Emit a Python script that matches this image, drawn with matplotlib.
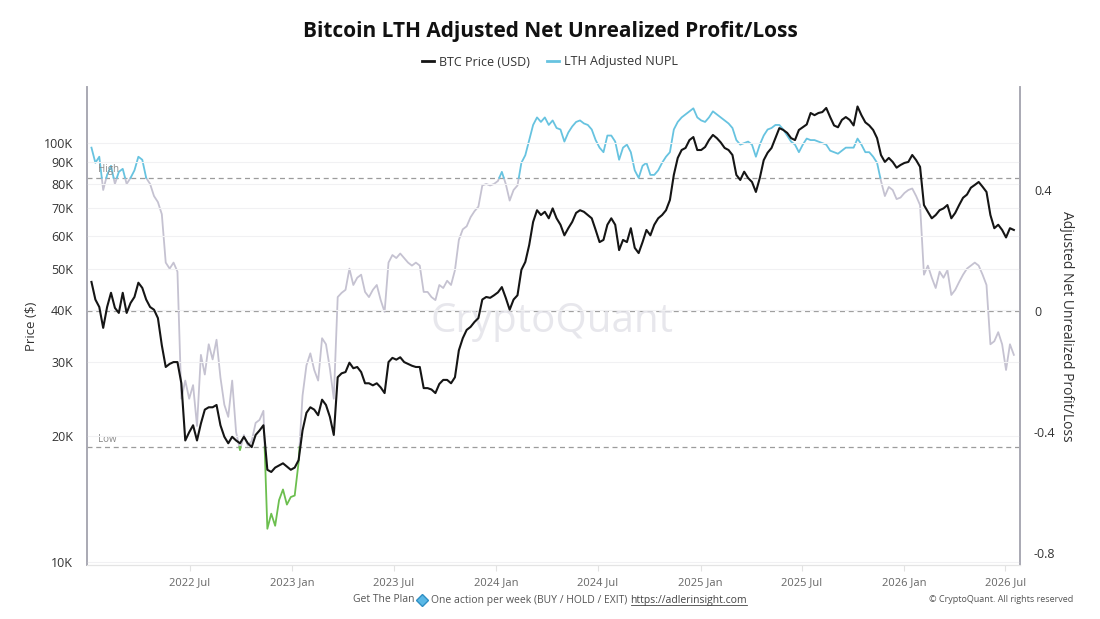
import numpy as np
import pandas as pd
import matplotlib
matplotlib.use('Agg')
import matplotlib.pyplot as plt
import matplotlib.dates as mdates
from matplotlib.ticker import FixedLocator, NullLocator, NullFormatter
from matplotlib.lines import Line2D

plt.rcParams['font.family'] = ['Open Sans', 'DejaVu Sans']

# weekly samples, first one on 2022-01-06
start_date = '2022-01-06'

# BTC price, thousands of USD
btc_price_k = [
    46.6, 42.3, 40.6, 36.2, 40.6, 43.9, 40.4, 39.3, 43.9, 39.3,
    41.5, 42.9, 46.4, 45.1, 42.3, 40.6, 40.0, 38.2, 32.9, 29.2,
    29.7, 30.0, 30.0, 26.7, 19.5, 20.4, 21.2, 19.5, 21.4, 23.1,
    23.4, 23.4, 23.7, 21.2, 19.9, 19.2, 19.9, 19.5, 19.2, 19.9,
    19.2, 18.8, 20.1, 20.6, 21.2, 16.6, 16.4, 16.8, 17.0, 17.2,
    16.9, 16.6, 16.8, 17.5, 20.6, 22.7, 23.4, 23.1, 22.4, 24.4,
    23.7, 22.2, 20.1, 27.6, 28.2, 28.4, 29.9, 29.0, 29.2, 28.4,
    26.7, 26.7, 26.4, 26.7, 26.1, 25.3, 30.0, 30.7, 30.4, 30.8,
    30.0, 29.7, 29.4, 29.2, 29.2, 26.0, 26.0, 25.8, 25.3, 26.6,
    27.2, 27.2, 26.7, 27.6, 32.0, 34.2, 35.8, 36.4, 37.4, 38.2,
    42.3, 42.9, 42.7, 43.3, 44.0, 45.3, 42.7, 40.0, 42.3, 43.3,
    49.8, 52.0, 57.1, 64.8, 69.1, 67.3, 68.5, 66.1, 69.8, 66.1,
    63.8, 60.2, 62.6, 64.8, 68.1, 69.1, 68.5, 67.3, 66.1, 62.0,
    58.0, 58.7, 63.8, 66.1, 63.8, 55.5, 58.7, 58.0, 62.6, 56.2,
    54.6, 58.0, 62.0, 60.2, 63.8, 66.1, 67.3, 69.1, 73.1, 83.9,
    92.1, 96.2, 97.3, 101.6, 103.3, 96.2, 96.2, 97.8, 101.6, 104.5,
    102.7, 100.3, 97.3, 96.2, 93.6, 83.9, 81.6, 85.4, 82.5, 80.7,
    76.4, 82.5, 91.0, 94.8, 97.3, 102.7, 108.5, 107.4, 105.7, 102.7,
    101.6, 107.4, 109.0, 110.7, 117.9, 116.5, 117.9, 118.5, 121.2, 115.3,
    110.1, 109.0, 113.5, 115.3, 113.5, 110.1, 122.2, 116.5, 112.0, 110.1,
    107.4, 102.7, 93.6, 90.1, 92.1, 90.1, 87.3, 88.6, 89.6, 90.1,
    93.6, 91.0, 87.7, 71.1, 68.5, 66.1, 67.3, 69.1, 69.8, 71.1,
    66.1, 68.1, 71.1, 74.0, 75.3, 78.2, 79.4, 80.7, 78.6, 76.4,
    67.3, 62.6, 63.8, 62.0, 59.5, 62.6, 62.0,
]

# LTH adjusted NUPL
lth_nupl = [
    0.54, 0.49, 0.51, 0.40, 0.45, 0.48, 0.42, 0.46, 0.47, 0.42,
    0.44, 0.465, 0.51, 0.50, 0.44, 0.42, 0.38, 0.36, 0.32, 0.16,
    0.14, 0.16, 0.13, -0.29, -0.23, -0.29, -0.245, -0.38, -0.145, -0.21,
    -0.11, -0.16, -0.095, -0.22, -0.31, -0.35, -0.23, -0.40, -0.46, -0.41,
    -0.445, -0.43, -0.37, -0.36, -0.33, -0.72, -0.67, -0.71, -0.625, -0.59,
    -0.64, -0.615, -0.61, -0.50, -0.28, -0.18, -0.14, -0.195, -0.23, -0.09,
    -0.11, -0.19, -0.29, 0.046, 0.06, 0.07, 0.14, 0.086, 0.11, 0.12,
    0.063, 0.046, 0.07, 0.086, 0.036, -0.003, 0.16, 0.185, 0.175, 0.19,
    0.175, 0.16, 0.15, 0.16, 0.15, 0.063, 0.063, 0.046, 0.036, 0.086,
    0.076, 0.10, 0.086, 0.135, 0.235, 0.27, 0.28, 0.31, 0.33, 0.345,
    0.415, 0.42, 0.415, 0.42, 0.43, 0.46, 0.42, 0.365, 0.40, 0.415,
    0.49, 0.515, 0.565, 0.615, 0.64, 0.625, 0.64, 0.615, 0.63, 0.605,
    0.60, 0.56, 0.59, 0.61, 0.625, 0.63, 0.62, 0.615, 0.60, 0.565,
    0.54, 0.525, 0.58, 0.58, 0.56, 0.50, 0.54, 0.55, 0.525, 0.465,
    0.44, 0.48, 0.49, 0.45, 0.45, 0.465, 0.49, 0.51, 0.525, 0.60,
    0.625, 0.64, 0.65, 0.66, 0.67, 0.64, 0.63, 0.625, 0.64, 0.66,
    0.65, 0.64, 0.63, 0.62, 0.605, 0.565, 0.55, 0.555, 0.56, 0.55,
    0.51, 0.55, 0.58, 0.60, 0.605, 0.615, 0.615, 0.60, 0.58, 0.56,
    0.55, 0.525, 0.55, 0.57, 0.565, 0.565, 0.56, 0.555, 0.55, 0.53,
    0.525, 0.52, 0.53, 0.54, 0.54, 0.54, 0.57, 0.55, 0.525, 0.525,
    0.51, 0.49, 0.43, 0.38, 0.41, 0.40, 0.37, 0.375, 0.39, 0.40,
    0.405, 0.38, 0.35, 0.12, 0.15, 0.11, 0.076, 0.13, 0.11, 0.135,
    0.053, 0.07, 0.096, 0.12, 0.14, 0.15, 0.16, 0.15, 0.12, 0.086,
    -0.11, -0.10, -0.07, -0.11, -0.195, -0.11, -0.145,
]

high_level = 0.44
low_level = -0.45

price_ticks_k = [10, 20, 30, 40, 50, 60, 70, 80, 90, 100]
nupl_ticks = [0.4, 0, -0.4, -0.8]
date_ticks = ['2022-07-01', '2023-01-01', '2023-07-01', '2024-01-01', '2024-07-01',
              '2025-01-01', '2025-07-01', '2026-01-01', '2026-07-01']

assert len(btc_price_k) == len(lth_nupl)
dates = pd.date_range(start_date, periods=len(btc_price_k), freq='7D')
price = np.array(btc_price_k) * 1000
nupl = np.array(lth_nupl)

c_black = '#151515'
c_blue = '#67c3e0'
c_gray = '#c5c2d1'
c_green = '#6cbf4f'

fig = plt.figure(figsize=(11, 6.19), dpi=100)
ax = fig.add_axes([87 / 1100, 1 - 565 / 619, (1020 - 87) / 1100, (565 - 87) / 619])
ax2 = ax.twinx()

# split NUPL line where it crosses the High / Low levels
xs = mdates.date2num(dates)
px, py = [xs[0]], [nupl[0]]
for i in range(1, len(nupl)):
    cross = []
    for lv in (high_level, low_level):
        if (nupl[i - 1] - lv) * (nupl[i] - lv) < 0:
            t = (lv - nupl[i - 1]) / (nupl[i] - nupl[i - 1])
            cross.append((t, lv))
    for t, lv in sorted(cross):
        px.append(xs[i - 1] + t * (xs[i] - xs[i - 1]))
        py.append(lv)
    px.append(xs[i])
    py.append(nupl[i])
px = np.array(px)
py = np.array(py)

mid = np.where((py <= high_level + 1e-9) & (py >= low_level - 1e-9), py, np.nan)
up = np.where(py >= high_level - 1e-9, py, np.nan)
dn = np.where(py <= low_level + 1e-9, py, np.nan)
ax2.plot(px, mid, color=c_gray, lw=1.3, zorder=2)
ax2.plot(px, up, color=c_blue, lw=1.3, zorder=2)
ax2.plot(px, dn, color=c_green, lw=1.3, zorder=2)

for lv in (high_level, 0, low_level):
    ax2.axhline(lv, color='#9c9c9c', lw=0.9, ls=(0, (4, 3)), zorder=1)

ax2.set_ylim(-0.8397, 0.7405)
ax2.yaxis.set_major_locator(FixedLocator(nupl_ticks))
ax2.set_yticklabels(['0.4', '0', '-0.4', '-0.8'])
ax2.tick_params(axis='y', length=0, pad=10, labelsize=9, labelcolor='#333333')
ax2.set_ylabel('Adjusted Net Unrealized Profit/Loss', rotation=270, labelpad=13,
               fontsize=10, color='#333333')

ax.set_zorder(ax2.get_zorder() + 1)
ax.patch.set_visible(False)
ax.plot(dates, price, color=c_black, lw=1.5, zorder=3)
ax.set_yscale('log')
ax.set_ylim(9837, 136000)
ax.yaxis.set_major_locator(FixedLocator([v * 1000 for v in price_ticks_k]))
ax.yaxis.set_minor_locator(NullLocator())
ax.yaxis.set_minor_formatter(NullFormatter())
ax.set_yticklabels([f'{v}K' for v in price_ticks_k])
ax.tick_params(axis='y', length=0, pad=10, labelsize=9, labelcolor='#333333')
ax.set_ylabel('Price ($)', fontsize=9.5, color='#333333', labelpad=4)
ax.yaxis.grid(True, color='#f1f1f3', lw=0.8)

ax.set_xlim(pd.Timestamp('2021-12-29'), pd.Timestamp('2026-07-27'))
ax.xaxis.set_major_locator(FixedLocator(mdates.date2num(pd.to_datetime(date_ticks))))
ax.xaxis.set_major_formatter(mdates.DateFormatter('%Y %b'))
ax.tick_params(axis='x', length=4, color='#e2e2e2', pad=5, labelsize=8, labelcolor='#666666')

for a in (ax, ax2):
    a.spines['top'].set_visible(False)
    a.spines['bottom'].set_color('#e4e4e4')
    a.spines['left'].set_color('#a9a9b3')
    a.spines['right'].set_color('#a9a9b3')
    a.spines['left'].set_linewidth(1.2)
    a.spines['right'].set_linewidth(1.2)

ax2.text(0.012, high_level + 0.008, 'High', transform=ax2.get_yaxis_transform(),
         fontsize=7, color='#8a8a8a', va='bottom')
ax2.text(0.012, low_level + 0.008, 'Low', transform=ax2.get_yaxis_transform(),
         fontsize=7, color='#8a8a8a', va='bottom')

fig.text(0.502, 1 - 322 / 619, 'CryptoQuant', fontsize=29, color='#e2e1e8',
         alpha=0.8, ha='center', va='center', zorder=0)

fig.text(0.5, 1 - 32 / 619, 'Bitcoin LTH Adjusted Net Unrealized Profit/Loss',
         fontsize=15, fontweight='bold', ha='center', va='center', color='#111111')

handles = [Line2D([], [], color=c_black, lw=2), Line2D([], [], color=c_blue, lw=2)]
fig.legend(handles, ['BTC Price (USD)', 'LTH Adjusted NUPL'], loc='center',
           bbox_to_anchor=(0.5, 1 - 62 / 619), ncol=2, frameon=False, fontsize=9,
           handlelength=1.0, handletextpad=0.4, columnspacing=1.3,
           labelcolor='#333333')

# footer line
renderer = fig.canvas.get_renderer()
fy = 1 - 600 / 619
t1 = fig.text(353 / 1100, fy, 'Get The Plan', fontsize=7.5, color='#555555', va='center')
x_end = t1.get_window_extent(renderer).x1 / 1100
fig.add_artist(Line2D([x_end + 0.007], [fy], marker='D', markersize=6,
                      color='#5ab8e6', markeredgecolor='#2f8fc4', transform=fig.transFigure))
t2 = fig.text(x_end + 0.015, fy, 'One action per week (BUY / HOLD / EXIT)', fontsize=7.5,
              color='#555555', va='center')
x_end = t2.get_window_extent(renderer).x1 / 1100
t3 = fig.text(x_end + 0.003, fy, 'https://adlerinsight.com', fontsize=7.5,
              color='#444444', va='center')
bb = t3.get_window_extent(renderer)
fig.add_artist(Line2D([bb.x0 / 1100, bb.x1 / 1100], [bb.y0 / 619 + 0.001] * 2,
                      color='#444444', lw=0.6, transform=fig.transFigure))
fig.text(1073 / 1100, fy, '© CryptoQuant. All rights reserved', fontsize=6.5,
         color='#555555', ha='right', va='center')

fig.savefig('out.png', dpi=100, facecolor='white')
